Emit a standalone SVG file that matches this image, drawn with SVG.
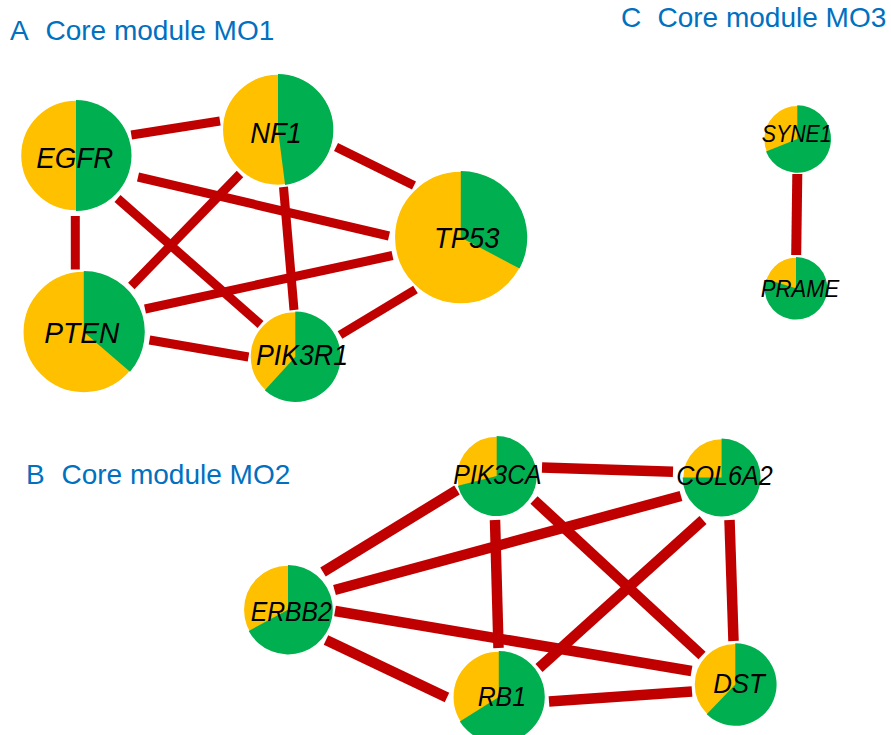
<svg xmlns="http://www.w3.org/2000/svg" width="891" height="735" viewBox="0 0 891 735">
<style>
.title{font-family:"Liberation Sans",Arial,sans-serif;font-size:28px;fill:#0070C0}
.lbl{font-family:"Liberation Sans",Arial,sans-serif;font-style:italic;fill:#000;text-anchor:middle}
.a{font-size:29px}
.b{font-size:27px}
.c{font-size:23px}
.y{fill:#FFC000;stroke:#fff;stroke-width:1.5}
.g{fill:#00B050}
.e{stroke:#C00000;fill:none;stroke-linecap:butt}
.ea{stroke-width:9}
.eb{stroke-width:10.5}
.ec{stroke-width:10}
</style>
<rect width="891" height="735" fill="#fff"/>
<g id="titles">
<text class="title" y="39.5"><tspan x="10">A</tspan><tspan x="45.5">Core module MO1</tspan></text>
<text class="title" y="484"><tspan x="26">B</tspan><tspan x="61.5">Core module MO2</tspan></text>
<text class="title" y="26.7"><tspan x="621">C</tspan><tspan x="657.5">Core module MO3</tspan></text>
</g>
<g id="connectors">
<line class="e ea" x1="131.3" y1="135" x2="220" y2="121"/>
<line class="e ea" x1="336" y1="147" x2="414" y2="185.5"/>
<line class="e ea" x1="138" y1="177" x2="389" y2="236"/>
<line class="e ea" x1="75.3" y1="216" x2="75.3" y2="269.5"/>
<line class="e ea" x1="117.5" y1="198.5" x2="260.5" y2="324.5"/>
<line class="e ea" x1="240" y1="174" x2="131.3" y2="286"/>
<line class="e ea" x1="283.5" y1="187" x2="294" y2="310"/>
<line class="e ea" x1="145" y1="309" x2="392.5" y2="255.5"/>
<line class="e ea" x1="149.5" y1="340" x2="248.5" y2="357"/>
<line class="e ea" x1="340" y1="335" x2="415.5" y2="289.5"/>
<line class="e eb" x1="542" y1="467.5" x2="673" y2="471.7"/>
<line class="e eb" x1="457" y1="490" x2="323" y2="572"/>
<line class="e eb" x1="681" y1="496" x2="334.5" y2="590"/>
<line class="e eb" x1="495" y1="520" x2="498.5" y2="648"/>
<line class="e eb" x1="534" y1="500" x2="702" y2="655.5"/>
<line class="e eb" x1="703" y1="520" x2="539" y2="668"/>
<line class="e eb" x1="729.5" y1="520" x2="733.5" y2="641"/>
<line class="e eb" x1="335" y1="611" x2="691.5" y2="671"/>
<line class="e eb" x1="326" y1="640" x2="447" y2="697.5"/>
<line class="e eb" x1="549" y1="701.5" x2="692" y2="691.5"/>
<line class="e ec" x1="797.3" y1="174" x2="796.2" y2="255"/>
</g>
<g id="EGFR">
<circle class="y" cx="76" cy="155.5" r="55.5"/>
<path class="g" d="M76,155.5 L76,100 A55.5,55.5 0 0 1 76,211 Z"/>
<text class="lbl a" x="74.7" y="168" textLength="77" lengthAdjust="spacingAndGlyphs">EGFR</text>
</g>
<g id="NF1">
<circle class="y" cx="278" cy="129.7" r="55.7"/>
<path class="g" d="M278,129.7 L278,74 A55.7,55.7 0 0 1 285.1,184.9 Z"/>
<text class="lbl a" x="276" y="142.7" textLength="51.7" lengthAdjust="spacingAndGlyphs">NF1</text>
</g>
<g id="TP53">
<circle class="y" cx="460.8" cy="237.5" r="66.5"/>
<path class="g" d="M460.8,237.5 L460.8,171 A66.5,66.5 0 0 1 519.6,268.5 Z"/>
<text class="lbl a" x="466.7" y="248.3" textLength="65.3" lengthAdjust="spacingAndGlyphs">TP53</text>
</g>
<g id="PTEN">
<circle class="y" cx="83.8" cy="332" r="61"/>
<path class="g" d="M83.8,332 L83.8,271 A61,61 0 0 1 130,371.8 Z"/>
<text class="lbl a" x="81.8" y="342.7" textLength="75" lengthAdjust="spacingAndGlyphs">PTEN</text>
</g>
<g id="PIK3R1">
<circle class="y" cx="295.3" cy="356.7" r="45.3"/>
<path class="g" d="M295.3,356.7 L295.3,311.4 A45.3,45.3 0 1 1 264.8,390.2 Z"/>
<text class="lbl a" x="302" y="365" textLength="92" lengthAdjust="spacingAndGlyphs">PIK3R1</text>
</g>
<g id="PIK3CA">
<circle class="y" cx="496.7" cy="476" r="40"/>
<path class="g" d="M496.7,476 L496.7,436 A40,40 0 1 1 457.9,485.7 Z"/>
<text class="lbl b" x="497.5" y="484.3" textLength="88.3" lengthAdjust="spacingAndGlyphs">PIK3CA</text>
</g>
<g id="COL6A2">
<circle class="y" cx="721.6" cy="477.5" r="39"/>
<path class="g" d="M721.6,477.5 L721.6,438.5 A39,39 0 1 1 682.6,477.5 Z"/>
<text class="lbl b" x="724.6" y="485" textLength="96.5" lengthAdjust="spacingAndGlyphs">COL6A2</text>
</g>
<g id="ERBB2">
<circle class="y" cx="288" cy="609.7" r="44.7"/>
<path class="g" d="M288,609.7 L288,565 A44.7,44.7 0 1 1 248.7,630.9 Z"/>
<text class="lbl b" x="291.2" y="620.7" textLength="81" lengthAdjust="spacingAndGlyphs">ERBB2</text>
</g>
<g id="RB1">
<circle class="y" cx="498.8" cy="697" r="46"/>
<path class="g" d="M498.8,697 L498.8,651 A46,46 0 1 1 459.8,721.4 Z"/>
<text class="lbl b" x="501.8" y="706" textLength="48.3" lengthAdjust="spacingAndGlyphs">RB1</text>
</g>
<g id="DST">
<circle class="y" cx="735.3" cy="684.5" r="41.3"/>
<path class="g" d="M735.3,684.5 L735.3,643.2 A41.3,41.3 0 1 1 706.7,714.3 Z"/>
<text class="lbl b" x="739" y="692.7" textLength="51.7" lengthAdjust="spacingAndGlyphs">DST</text>
</g>
<g id="SYNE1">
<circle class="y" cx="797.3" cy="139" r="33.7"/>
<path class="g" d="M797.3,139 L797.3,105.3 A33.7,33.7 0 1 1 766,151.4 Z"/>
<text class="lbl c" x="796.7" y="142.3" textLength="70" lengthAdjust="spacingAndGlyphs">SYNE1</text>
</g>
<g id="PRAME">
<circle class="y" cx="796" cy="288.3" r="31.3"/>
<path class="g" d="M796,288.3 L796,257 A31.3,31.3 0 1 1 766,279.3 Z"/>
<text class="lbl c" x="800" y="296.7" textLength="78.7" lengthAdjust="spacingAndGlyphs">PRAME</text>
</g>
</svg>
